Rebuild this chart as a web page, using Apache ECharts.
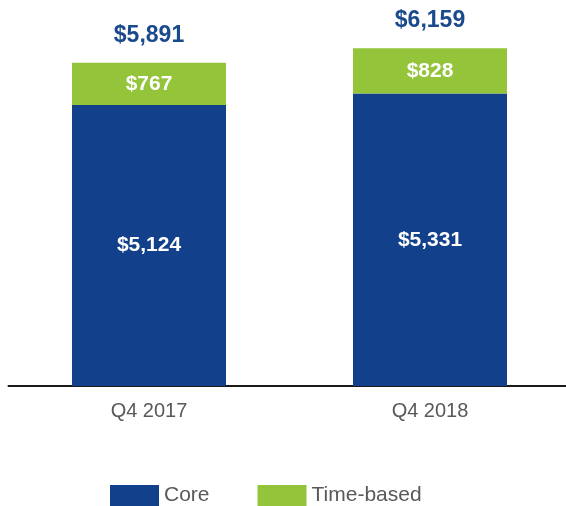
<!DOCTYPE html>
<html>
<head>
<meta charset="utf-8">
<script src="https://cdn.jsdelivr.net/npm/echarts@6/dist/echarts.min.js"></script>
<style>
  html, body { margin: 0; padding: 0; background: #fff; }
  #chart { width: 566px; height: 506px; }
</style>
</head>
<body>
<div id="chart"></div>
<script>
const categories = ["Q4 2017", "Q4 2018"];
const coreValues = [5124, 5331];
const timeBasedValues = [767, 828];
const totals = [5891, 6159];

const fmt = v => "$" + v.toLocaleString("en-US");

const myChart = echarts.init(document.getElementById("chart"));
const option = {
  animation: false,
  textStyle: { fontFamily: "Liberation Sans, Arial, sans-serif" },
  grid: { left: 8.5, width: 562, top: 2, bottom: 120, outerBoundsMode: "none", containLabel: false },
  legend: {
    left: 110,
    top: 485,
    padding: 0,
    itemWidth: 49,
    itemHeight: 21,
    itemGap: 48,
    icon: "rect",
    textStyle: { fontSize: 21, color: "#595959" },
    data: ["Core", "Time-based"]
  },
  xAxis: {
    type: "category",
    data: categories,
    axisLine: { lineStyle: { color: "#1a1a1a", width: 2 } },
    axisTick: { show: false },
    axisLabel: { fontSize: 20, color: "#595959", margin: 15 }
  },
  yAxis: {
    type: "value",
    min: 0,
    max: 7000,
    show: false
  },
  series: [
    {
      name: "Core",
      type: "bar",
      stack: "total",
      barWidth: 154,
      data: coreValues,
      itemStyle: { color: "#12408a" },
      label: {
        show: true,
        position: "inside",
        color: "#fff",
        fontSize: 21,
        fontWeight: "bold",
        formatter: p => fmt(p.value)
      }
    },
    {
      name: "Time-based",
      type: "bar",
      stack: "total",
      barWidth: 154,
      data: timeBasedValues,
      itemStyle: { color: "#93c43a" },
      label: {
        show: true,
        position: "inside",
        color: "#fff",
        fontSize: 21,
        fontWeight: "bold",
        formatter: p => fmt(p.value)
      }
    },
    {
      name: "Total",
      type: "bar",
      stack: "total",
      barWidth: 154,
      data: [0, 0],
      itemStyle: { color: "transparent" },
      label: {
        show: true,
        position: "top",
        distance: 16,
        color: "#1a4a8c",
        fontSize: 23,
        fontWeight: "bold",
        formatter: p => fmt(totals[p.dataIndex])
      }
    }
  ]
};
myChart.setOption(option);
</script>
</body>
</html>
